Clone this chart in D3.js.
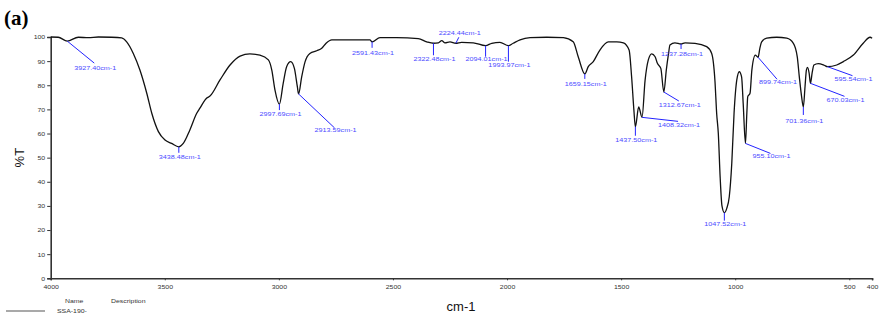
<!DOCTYPE html>
<html>
<head>
<meta charset="utf-8">
<script src="https://cdn.jsdelivr.net/npm/d3@7"></script>
<style>
  body { margin: 0; background: #fff; }
  svg { display: block; font-family: Arial, "Liberation Sans", sans-serif; }
</style>
</head>
<body>
<svg id="chart" width="887" height="320"></svg>
<script>
var spectrum = [
  [4000, 100], [3967, 99.9], [3927.40, 98.3], [3879, 99.9], [3835, 99.7], [3791, 100],
  [3733, 99.9], [3689, 99.6], [3667, 98], [3638, 93.2], [3609, 86.3], [3579, 76.7],
  [3557, 68.4], [3528, 60.8], [3499, 57.3], [3470, 55.9], [3438.48, 54.5], [3419, 55.9],
  [3390, 61.5], [3360, 68.4], [3346, 70.5], [3316, 74.7], [3302, 75.5], [3258, 82.2],
  [3214, 88.4], [3170, 92.1], [3127, 93], [3083, 92.5], [3046, 90.5], [3031, 86.3],
  [3017, 78], [2997.69, 72.2], [2981, 80.8], [2966, 87.7], [2948, 89.8], [2932, 87],
  [2919, 79.4], [2913.59, 76.4], [2900, 83.5], [2885, 89.8], [2864, 93.2], [2834, 94.3],
  [2812, 95.3], [2793, 97.4], [2768, 98.8], [2703, 98.8], [2601, 98.8], [2591.43, 98],
  [2557, 99.7], [2484, 99.7], [2389, 99.3], [2352, 98], [2322.48, 97.4], [2301, 97.6],
  [2286, 98.5], [2272, 97.6], [2250, 98], [2224.44, 97.4], [2199, 97.8], [2148, 97.6],
  [2094.01, 96.4], [2067, 97.4], [2031, 97.8], [1993.97, 96.4], [1973, 97.4], [1943, 98.8],
  [1899, 99.7], [1826, 99.9], [1753, 99.7], [1710, 98], [1688, 91.8], [1659.15, 84.7],
  [1644, 87.7], [1622, 89.8], [1593, 94.6], [1556, 98], [1519, 98], [1490, 97.6],
  [1465, 94.6], [1454, 83.5], [1444, 69.7], [1437.50, 62.8], [1423, 71], [1408.32, 66.7],
  [1395, 82], [1381, 90.4], [1366, 93], [1351, 91.8], [1341, 89.1], [1326, 87],
  [1312.67, 77.2], [1302, 86.3], [1292, 93.2], [1286, 96.7], [1264, 97.6], [1237.28, 97.1],
  [1220, 97.6], [1176, 97.4], [1125, 96], [1103, 93.2], [1089, 82.2], [1081, 68],
  [1074, 60], [1066, 42], [1058, 30], [1047.52, 27.2], [1037, 29], [1026, 33.8],
  [1015, 47.7], [1005, 68.4], [993, 82.2], [982, 85.6], [972, 83.5], [965, 72.5],
  [955.10, 55.9], [949, 68.4], [945, 75.3], [935, 76.7], [927, 86.3], [912, 92.5],
  [899.74, 91.6], [892, 95.3], [884, 98], [862, 99.5], [818, 99.9], [774, 99.5],
  [745, 97.4], [728, 91.8], [719, 83.5], [709, 75.3], [701.36, 71], [694, 79.4],
  [688, 86.3], [683, 87.4], [676, 85], [670.03, 80.8], [663, 85], [655, 88.4],
  [636, 89], [610, 88.3], [595.54, 87.7], [555, 88.4], [526, 89.8], [482, 92.5],
  [439, 97.4], [409, 99.9], [400, 99.5]
];

// annotated peaks
var peakWn = [3927.40, 3438.48, 2997.69, 2913.59, 2591.43, 2322.48, 2224.44, 2094.01, 1993.97, 1659.15,
  1437.50, 1408.32, 1312.67, 1237.28, 1047.52, 955.10, 899.74, 701.36, 670.03, 595.54];
var peakT = [98.3, 54.5, 72.2, 76.4, 98, 97.4, 97.4, 96.4, 96.4, 84.7,
  62.8, 66.7, 77.2, 97.1, 27.2, 55.9, 91.6, 71, 80.8, 87.7];
var peakLabels = peakWn.map( function( w ){ return w.toFixed( 2 ) + "cm-1"; } );

var xTicks = [4000, 3500, 3000, 2500, 2000, 1500, 1000, 500, 400];
var yTicks = [0, 10, 20, 30, 40, 50, 60, 70, 80, 90, 100];

// leader end offset from the peak (dx, dy) and text baseline offset from leader end
var leader = [
  [27, 22, 6.5], [0, 6, 6.5], [0, 6, 6], [36, 34, 4], [0, 6, 7.5], [0, 12, 6], [3, -6, -2], [0, 11, 4.5], [0, 16, 5], [0, 5, 7],
  [0, 9, 6], [36, 4, 5.5], [15, 9, 6], [0, 5, 7], [0, 8, 5.5], [25, 10, 5], [19, 22, 5], [0, 8, 8], [34, 13, 5.5], [25, 9, 5]
];

var MARGIN = { left: 50.7, right: 15, top: 37, bottom: 41.7 };
var W = 887, H = 320;

var svg = d3.select( "#chart" );

var x = d3.scaleLinear()
  .domain( [4000, 400] )
  .range( [MARGIN.left, 872.1] );

var y = d3.scaleLinear()
  .domain( [0, 100] )
  .range( [H - MARGIN.bottom, MARGIN.top] );

var axisColor = "#333";

// stretch narrow text a bit wider like the original export
function stretch( sel, k ){
  sel.each( function(){
    var len = this.getComputedTextLength();
    d3.select( this )
      .attr( "textLength", len * k )
      .attr( "lengthAdjust", "spacingAndGlyphs" );
  } );
}

// x axis
var xAxis = svg.append( "g" )
  .attr( "transform", "translate(0," + y( 0 ) + ")" )
  .call( d3.axisBottom( x ).tickValues( xTicks ).tickSize( 2 ).tickFormat( d3.format( "d" ) ) );

xAxis.select( ".domain" ).attr( "stroke", axisColor ).attr( "stroke-width", 1.6 );
xAxis.selectAll( ".tick line" ).attr( "stroke", axisColor );
xAxis.selectAll( ".tick text" )
  .attr( "fill", "#333" )
  .attr( "font-size", "6px" )
  .attr( "dy", "0.9em" )
  .call( stretch, 1.15 );

// y axis
var yAxis = svg.append( "g" )
  .attr( "transform", "translate(" + x( 4000 ) + ",0)" )
  .call( d3.axisLeft( y ).tickValues( yTicks ).tickSize( 3.5 ).tickPadding( 2 ) );

yAxis.select( ".domain" ).attr( "stroke", axisColor ).attr( "stroke-width", 1.6 );
yAxis.selectAll( ".tick line" ).attr( "stroke", axisColor );
yAxis.selectAll( ".tick text" )
  .attr( "fill", "#333" )
  .attr( "font-size", "6px" )
  .call( stretch, 1.15 );

// spectrum
var line = d3.line()
  .x( function( d ){ return x( d[0] ); } )
  .y( function( d ){ return y( d[1] ); } )
  .curve( d3.curveMonotoneX );

svg.append( "path" )
  .datum( spectrum )
  .attr( "fill", "none" )
  .attr( "stroke", "#111" )
  .attr( "stroke-width", 1.3 )
  .attr( "d", line );

// peak annotations
for( var i = 0 ; i < peakWn.length ; i++ ){
  var px = x( peakWn[i] );
  var py = y( peakT[i] );
  var ex = px + leader[i][0];
  var ey = py + leader[i][1];

  svg.append( "line" )
    .attr( "x1", px )
    .attr( "y1", py )
    .attr( "x2", ex )
    .attr( "y2", ey )
    .attr( "stroke", "#2323ff" )
    .attr( "stroke-width", 1 );

  svg.append( "text" )
    .attr( "x", ex + 1 )
    .attr( "y", ey + leader[i][2] )
    .attr( "text-anchor", "middle" )
    .attr( "font-size", "6px" )
    .attr( "fill", "#4b4bff" )
    .text( peakLabels[i] )
    .call( stretch, 1.2 );
}

// titles
svg.append( "text" )
  .attr( "x", 4 )
  .attr( "y", 25 )
  .attr( "font-family", "'Liberation Serif', 'Times New Roman', serif" )
  .attr( "font-weight", "bold" )
  .attr( "font-size", "21px" )
  .text( "(a)" );

svg.append( "text" )
  .attr( "transform", "translate(24," + ( ( MARGIN.top + H - MARGIN.bottom ) / 2 ) + ") rotate(-90)" )
  .attr( "text-anchor", "middle" )
  .attr( "font-size", "13px" )
  .attr( "fill", "#111" )
  .text( "%T" );

svg.append( "text" )
  .attr( "x", 461 )
  .attr( "y", 311 )
  .attr( "text-anchor", "middle" )
  .attr( "font-size", "13px" )
  .attr( "fill", "#111" )
  .text( "cm-1" );

// legend
svg.append( "text" )
  .attr( "x", 65 )
  .attr( "y", 302.5 )
  .attr( "font-size", "6px" )
  .attr( "fill", "#333" )
  .text( "Name" )
  .call( stretch, 1.15 );

svg.append( "text" )
  .attr( "x", 111 )
  .attr( "y", 302.5 )
  .attr( "font-size", "6px" )
  .attr( "fill", "#333" )
  .text( "Description" )
  .call( stretch, 1.15 );

svg.append( "line" )
  .attr( "x1", 6 )
  .attr( "y1", 311 )
  .attr( "x2", 45 )
  .attr( "y2", 311 )
  .attr( "stroke", "#555" )
  .attr( "stroke-width", 1.2 );

svg.append( "text" )
  .attr( "x", 57 )
  .attr( "y", 313 )
  .attr( "font-size", "6px" )
  .attr( "fill", "#333" )
  .text( "SSA-190-" )
  .call( stretch, 1.15 );
</script>
</body>
</html>
